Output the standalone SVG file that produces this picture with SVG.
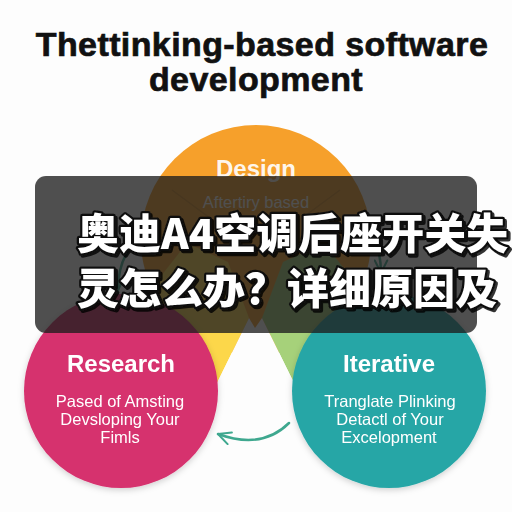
<svg xmlns="http://www.w3.org/2000/svg" width="512" height="512" viewBox="0 0 512 512">
  <defs>
    <style>
      .title { font-family: "Liberation Sans", Arial, sans-serif; font-weight: 700; font-size: 34px; fill: #111; stroke: #111; stroke-width: 0.7; text-anchor: middle; letter-spacing: 0.4px; }
      .head { font-family: "Liberation Sans", Arial, sans-serif; font-weight: 700; font-size: 24px; fill: #ffffff; text-anchor: middle; }
      .body { font-family: "Liberation Sans", Arial, sans-serif; font-size: 16.5px; fill: #ffffff; text-anchor: middle; }
      .cjk { font-family: "Noto Sans CJK SC", "Noto Sans CJK TC", sans-serif; font-weight: 900; font-size: 42px; fill: #ffffff; stroke: #111; stroke-width: 4.5; stroke-linejoin: round; paint-order: stroke fill; }
      .conn { fill: none; stroke: #3fa88f; stroke-width: 2.5; stroke-linecap: round; }
    </style>
    <marker id="arrow" viewBox="0 0 12 12" refX="11" refY="6" markerWidth="6" markerHeight="6" orient="auto" markerUnits="strokeWidth">
      <path d="M1 1 L11 6 L1 11" fill="none" stroke="#3fa88f" stroke-width="1.6" stroke-linecap="round" stroke-linejoin="round"/>
    </marker>
    <filter id="shadow" x="-20%" y="-20%" width="140%" height="140%">
      <feDropShadow dx="0" dy="2" stdDeviation="3" flood-color="#000" flood-opacity="0.18"/>
    </filter>
    <filter id="tshadow" x="-5%" y="-20%" width="110%" height="140%">
      <feDropShadow dx="2" dy="2" stdDeviation="0.6" flood-color="#000" flood-opacity="0.8"/>
    </filter>
  </defs>

  <rect width="512" height="512" fill="#fdfdfd"/>

  <g id="title">
    <text class="title" x="262" y="56">Thettinking-based software</text>
    <text class="title" x="256" y="91">development</text>
  </g>

  <g id="design">
    <circle cx="256" cy="240" r="115" fill="#f6a02b"/>
    <path d="M172 190 L256 252 L340 190" fill="none" stroke="#000" stroke-opacity="0.12" stroke-width="1.5"/>
    <text class="head" x="256" y="177" fill-opacity="0.92">Design</text>
    <text class="body" x="256" y="208" fill="#e8e8e8">Aftertiry based</text>
  </g>

  <g id="center-wedges">
    <polygon points="187,243 228,262 249,318 216,385 110,385 150,290" fill="#fcd74a"/>
    <polygon points="324,243 283,262 262,318 295,385 401,385 361,290" fill="#a6d17a"/>
    <polygon points="216,385 249,318 255,328 262,318 295,385" fill="#fdfdfd"/>
  </g>

  <g id="research" filter="url(#shadow)">
    <circle cx="121" cy="391" r="97" fill="#d6316e"/>
    <text class="head" x="121" y="372">Research</text>
    <text class="body" x="120" y="407">Pased of Amsting</text>
    <text class="body" x="120" y="425">Devsloping Your</text>
    <text class="body" x="120" y="443">Fimls</text>
  </g>

  <g id="iterative" filter="url(#shadow)">
    <circle cx="389" cy="391" r="97" fill="#28a6a6"/>
    <text class="head" x="389" y="372">Iterative</text>
    <text class="body" x="390" y="407">Tranglate Plinking</text>
    <text class="body" x="390" y="425">Detactl of Your</text>
    <text class="body" x="389" y="443">Excelopment</text>
  </g>

  <g id="connectors">
    <path class="conn" d="M142 236 Q118 254 118 290" marker-end="url(#arrow)"/>
    <path class="conn" d="M366 228 Q381 244 381 273" marker-end="url(#arrow)"/>
    <path class="conn" d="M289 423 Q262 450 218 434" marker-end="url(#arrow)"/>
  </g>

  <g id="overlay">
    <rect x="35" y="176" width="442" height="157" rx="11" fill="#1e1e1e" fill-opacity="0.78"/>
    <g filter="url(#tshadow)">
      <text class="cjk" x="77" y="249">奥迪A4空调后座开关失</text>
      <text class="cjk" x="77" y="304">灵怎么办？详细原因及</text>
    </g>
  </g>
</svg>
